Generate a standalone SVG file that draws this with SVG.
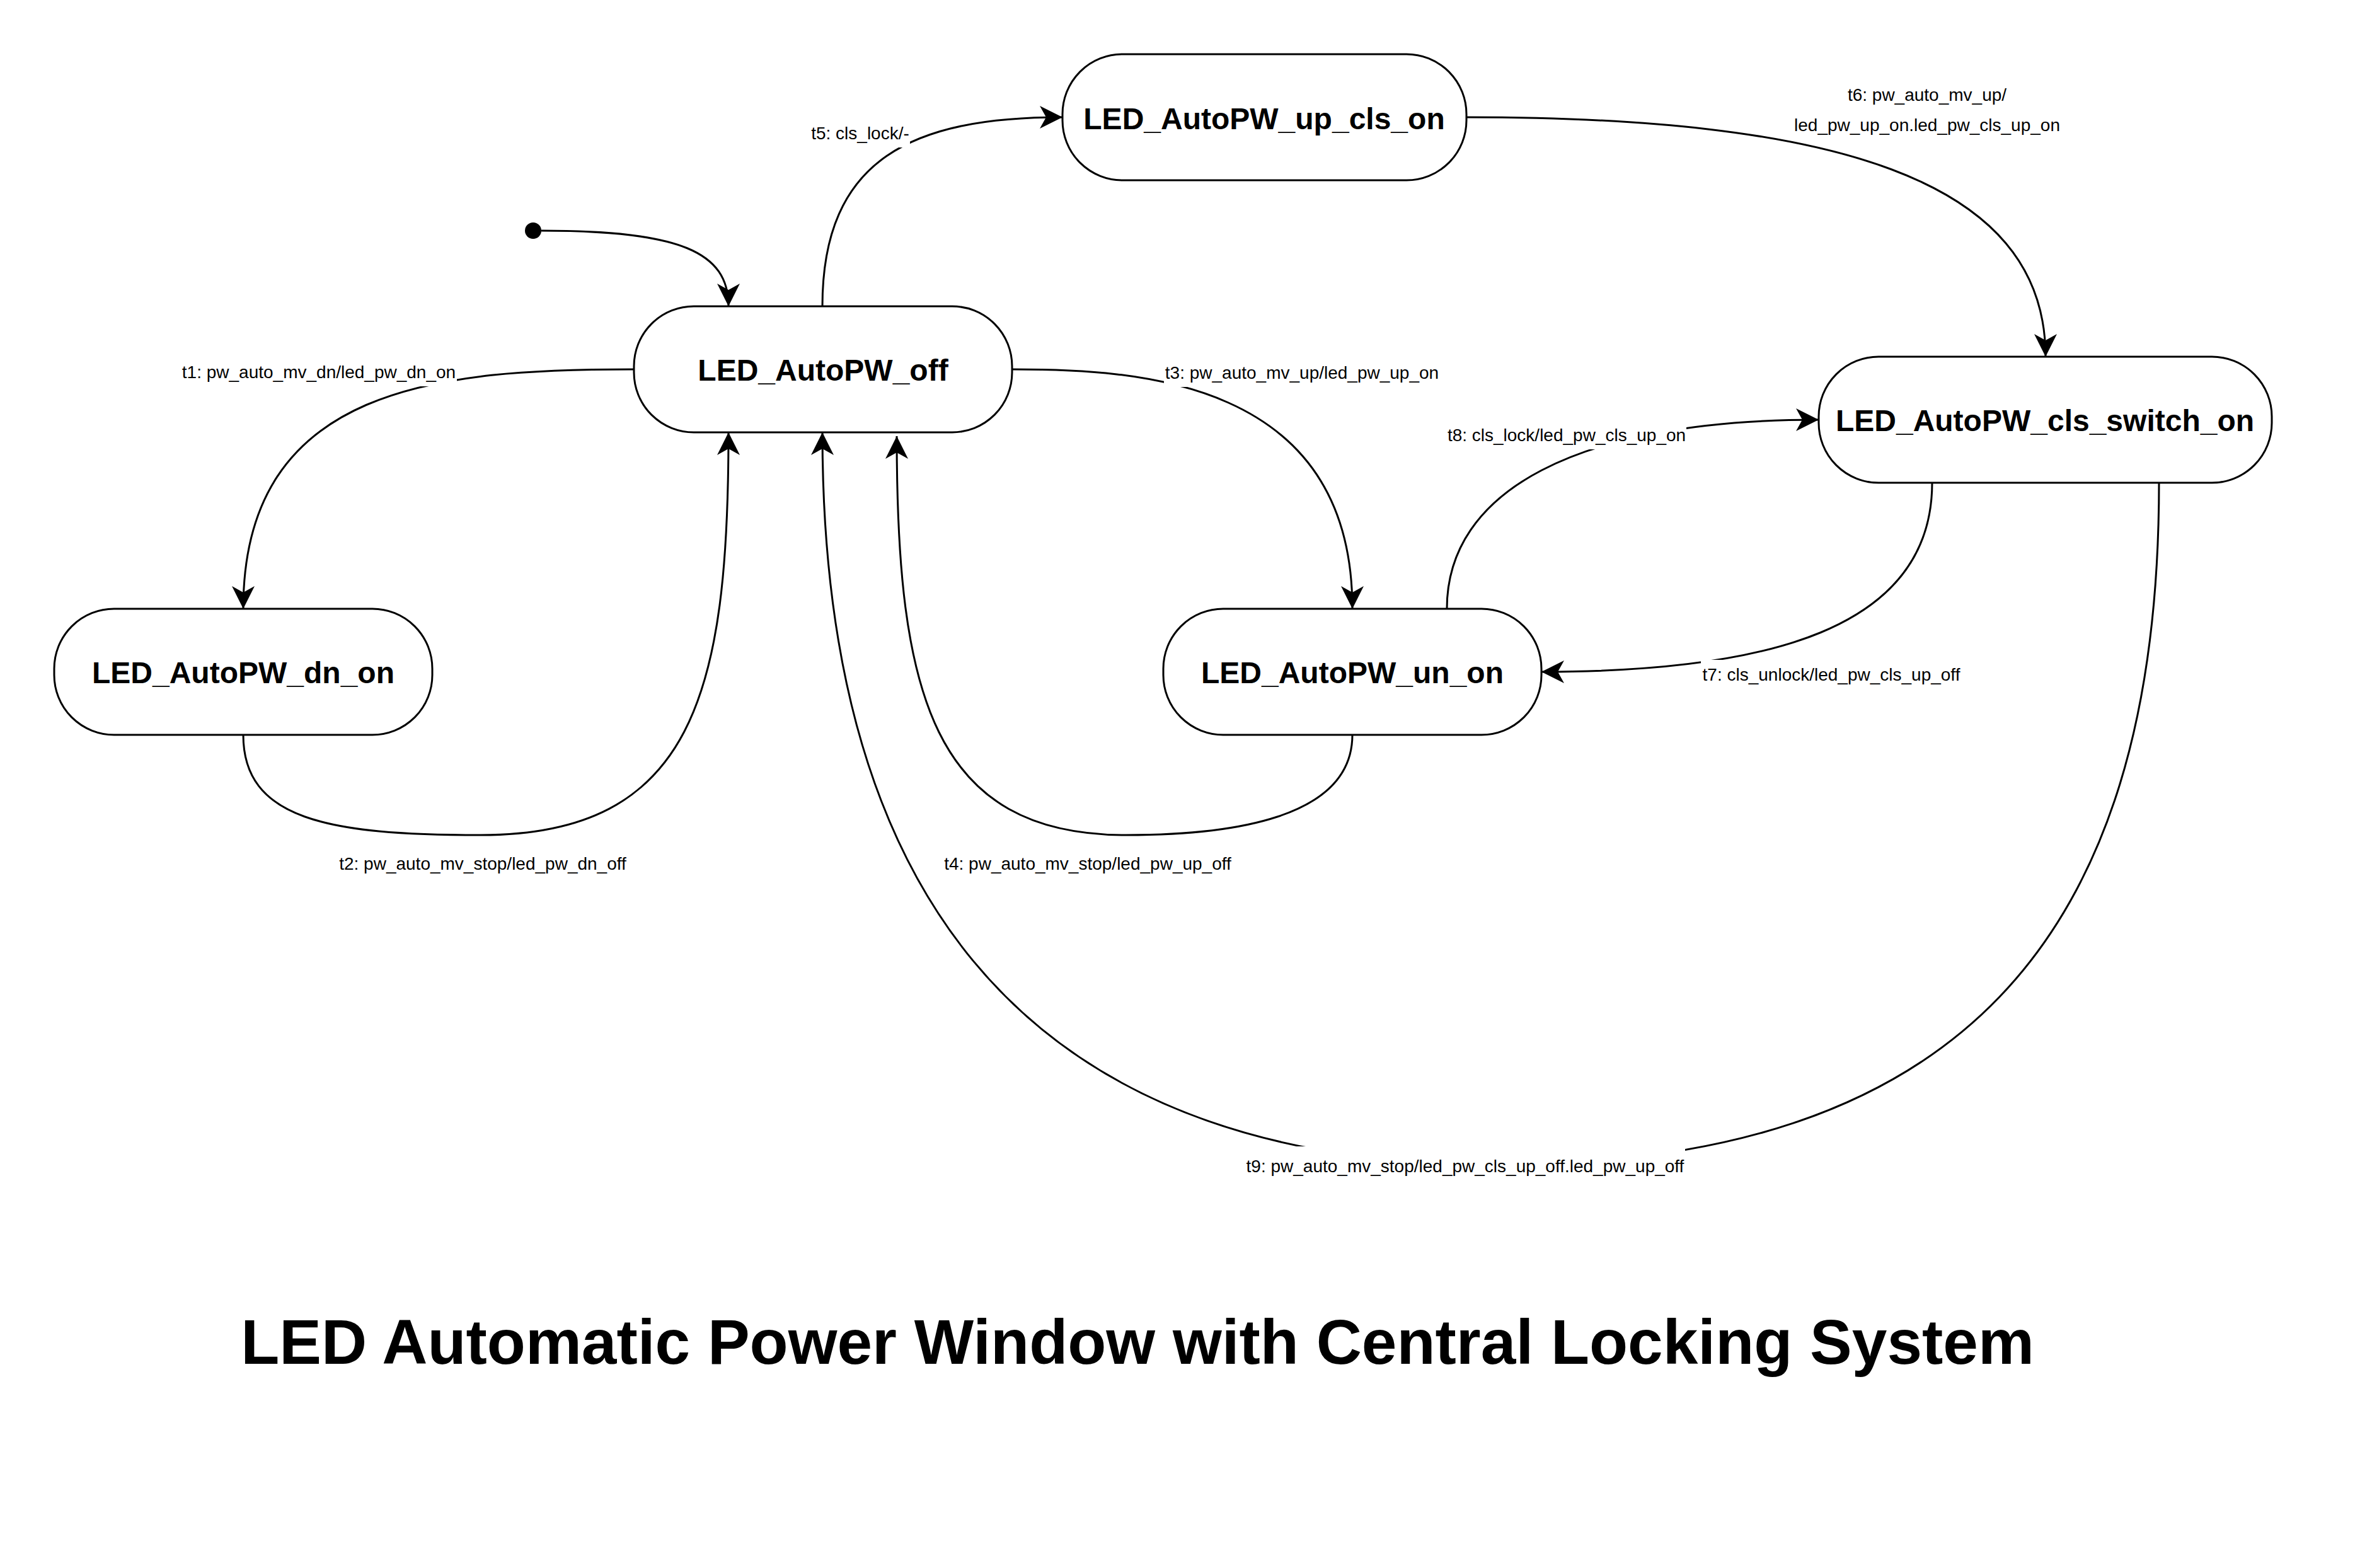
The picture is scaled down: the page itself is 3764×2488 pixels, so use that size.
<svg xmlns="http://www.w3.org/2000/svg" width="3764" height="2488" viewBox="0 0 3764 2488">
<style>
.node rect{fill:#fff;stroke:#000;stroke-width:3}
.node text{font-family:"Liberation Sans",Arial,Helvetica,sans-serif;font-weight:bold;font-size:48px;text-anchor:middle;fill:#000}
.edge{fill:none;stroke:#000;stroke-width:3;marker-end:url(#arr)}
.lbl rect{fill:#fff;stroke:none}
.lbl text{font-family:"Liberation Sans",Arial,Helvetica,sans-serif;font-size:28px;text-anchor:middle;fill:#000}
.title{font-family:"Liberation Sans",Arial,Helvetica,sans-serif;font-weight:bold;font-size:100px;text-anchor:middle;fill:#000}
</style>
<defs>
<marker id="arr" markerUnits="userSpaceOnUse" markerWidth="40" markerHeight="40" viewBox="-38 -20 40 40" refX="0" refY="0" orient="auto" overflow="visible">
<path d="M0,0 L-36,-18 L-26,0 L-36,18 Z" fill="#000"/>
</marker>
</defs>
<rect x="0" y="0" width="3764" height="2488" fill="#fff"/>

<g id="node-LED_AutoPW_off" class="node">
<rect x="1006" y="486" width="600" height="200" rx="95" ry="95"/>
<text x="1306" y="604">LED_AutoPW_off</text>
</g>
<g id="node-LED_AutoPW_up_cls_on" class="node">
<rect x="1686" y="86" width="641" height="200" rx="95" ry="95"/>
<text x="2006" y="205">LED_AutoPW_up_cls_on</text>
</g>
<g id="node-LED_AutoPW_cls_switch_on" class="node">
<rect x="2886" y="566" width="719" height="200" rx="95" ry="95"/>
<text x="3245" y="684">LED_AutoPW_cls_switch_on</text>
</g>
<g id="node-LED_AutoPW_dn_on" class="node">
<rect x="86" y="966" width="600" height="200" rx="95" ry="95"/>
<text x="386" y="1084">LED_AutoPW_dn_on</text>
</g>
<g id="node-LED_AutoPW_un_on" class="node">
<rect x="1846" y="966" width="600" height="200" rx="95" ry="95"/>
<text x="2146" y="1084">LED_AutoPW_un_on</text>
</g>
<g id="node-initial">
<circle cx="846" cy="366" r="13" fill="#000"/>
</g>

<g id="connectors">
<path id="e-init" class="edge" d="M859,366 C1080,366 1156,400 1156,486"/>
<path id="e-t1" class="edge" d="M1006,586 C700,586 386,610 386,966"/>
<path id="e-t2" class="edge" d="M386,1166 C386,1300 520,1325 763,1325 C1100,1325 1156,1100 1156,686"/>
<path id="e-t3" class="edge" d="M1606,586 C1800,586 2146,600 2146,966"/>
<path id="e-t4" class="edge" d="M2146,1166 C2146,1300 1950,1325 1787,1325 C1480,1325 1423,1100 1423,692"/>
<path id="e-t5" class="edge" d="M1305,486 C1305,250 1450,186 1686,186"/>
<path id="e-t6" class="edge" d="M2327,186 C2900,186 3246,280 3246,566"/>
<path id="e-t7" class="edge" d="M3066,766 C3066,1000 2800,1066 2446,1066"/>
<path id="e-t8" class="edge" d="M2296,966 C2296,780 2500,666 2886,666"/>
<path id="e-t9" class="edge" d="M3426,766 C3426,1500 3100,1848 2376,1848 C1700,1848 1305,1500 1305,686"/>
</g>

<g id="edge-labels">
<g class="lbl" id="l-t1"><rect x="287" y="569" width="438" height="44"/><text x="506" y="600">t1: pw_auto_mv_dn/led_pw_dn_on</text></g>
<g class="lbl" id="l-t2"><rect x="537" y="1349" width="458" height="44"/><text x="766" y="1380">t2: pw_auto_mv_stop/led_pw_dn_off</text></g>
<g class="lbl" id="l-t3"><rect x="1847" y="570" width="437" height="44"/><text x="2066" y="601">t3: pw_auto_mv_up/led_pw_up_on</text></g>
<g class="lbl" id="l-t4"><rect x="1495" y="1349" width="461" height="44"/><text x="1726" y="1380">t4: pw_auto_mv_stop/led_pw_up_off</text></g>
<g class="lbl" id="l-t5"><rect x="1286" y="190" width="158" height="44"/><text x="1365" y="221">t5: cls_lock/-</text></g>
<g class="lbl" id="l-t6"><text x="3058" y="160">t6: pw_auto_mv_up/</text><text x="3058" y="208">led_pw_up_on.led_pw_cls_up_on</text></g>
<g class="lbl" id="l-t7"><rect x="2699" y="1047" width="413" height="46"/><text x="2906" y="1080">t7: cls_unlock/led_pw_cls_up_off</text></g>
<g class="lbl" id="l-t8"><rect x="2295" y="669" width="381" height="44"/><text x="2486" y="700">t8: cls_lock/led_pw_cls_up_on</text></g>
<g class="lbl" id="l-t9"><rect x="1976" y="1819" width="698" height="56"/><text x="2325" y="1860">t9: pw_auto_mv_stop/led_pw_cls_up_off.led_pw_up_off</text></g>
</g>

<text class="title" x="1805" y="2164">LED Automatic Power Window with Central Locking System</text>
</svg>
